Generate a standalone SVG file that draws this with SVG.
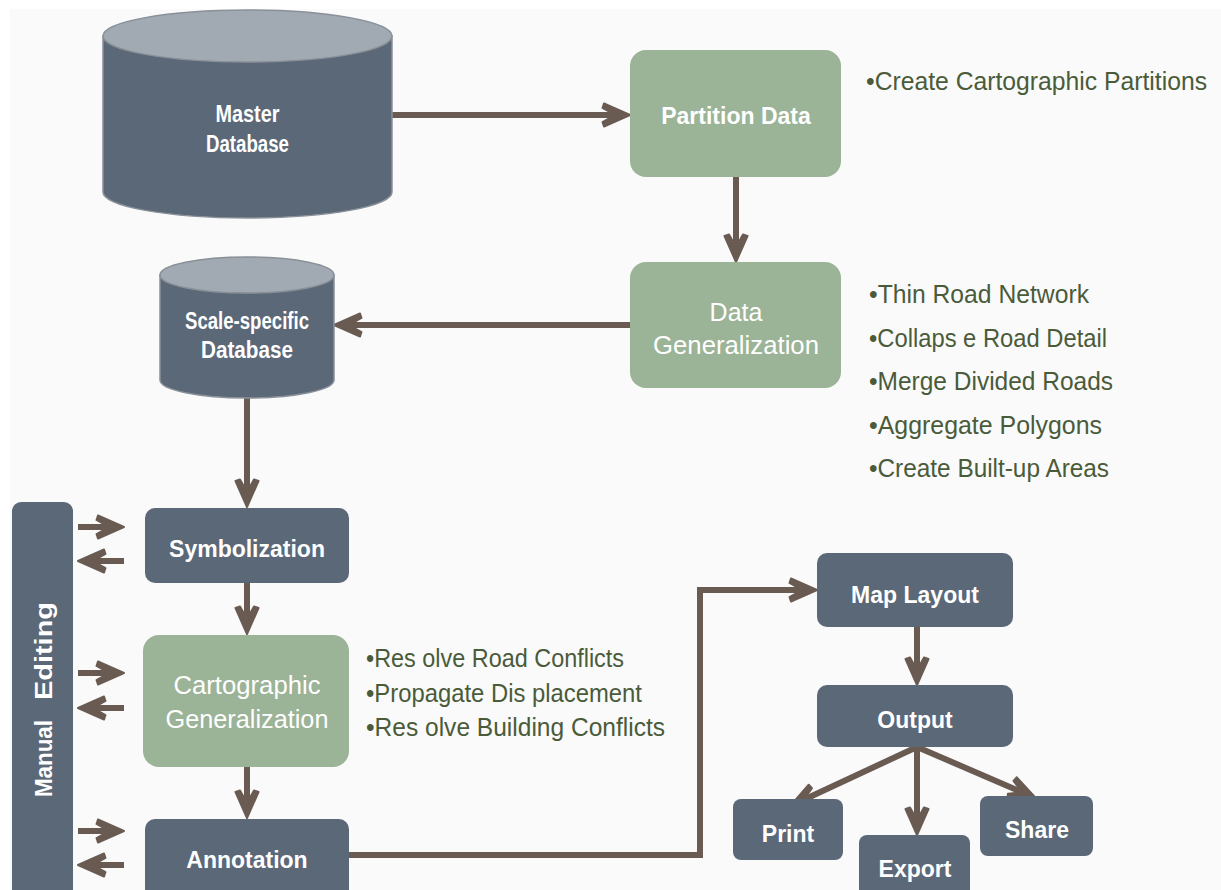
<svg xmlns="http://www.w3.org/2000/svg" width="1221" height="890" viewBox="0 0 1221 890">
<style>
.dk{fill:#5b6878}
.gr{fill:#9bb396}
.lbl{font-family:"Liberation Sans",Arial,sans-serif;font-weight:bold;font-size:23px;fill:#ffffff;text-anchor:middle}
.lblr{font-family:"Liberation Sans",Arial,sans-serif;font-size:25px;fill:#ffffff;text-anchor:middle}
.cyl{font-family:"Liberation Sans",Arial,sans-serif;font-weight:bold;font-size:23px;fill:#ffffff;text-anchor:middle}
.bul{font-family:"Liberation Sans",Arial,sans-serif;font-size:25px;fill:#4a5b3a}
.con{fill:none;stroke:#6a5b52;stroke-width:6}
</style>
<defs>
<marker id="ah" markerUnits="userSpaceOnUse" markerWidth="48" markerHeight="32" viewBox="-32 -16 48 32" refX="-14" refY="0" orient="auto" overflow="visible">
<path d="M0,0 L-26,-11.5 L-27.5,-7 L-15,0 L-27.5,7 L-26,11.5 Z" fill="#6a5b52" stroke="#6a5b52" stroke-width="2" stroke-linejoin="round"/>
</marker>
</defs>
<rect x="0" y="0" width="1221" height="890" fill="#ffffff"/>
<rect x="10" y="9" width="1211" height="881" fill="#fafafa"/>

<g id="connectors">
<path class="con" marker-end="url(#ah)" d="M392,115 H616"/>
<path class="con" marker-end="url(#ah)" d="M736,177 V248"/>
<path class="con" marker-end="url(#ah)" d="M630,325 H348"/>
<path class="con" marker-end="url(#ah)" d="M247,398 V493"/>
<path class="con" marker-end="url(#ah)" d="M247,583 V620"/>
<path class="con" marker-end="url(#ah)" d="M247,767 V804"/>
<path class="con" marker-end="url(#ah)" d="M349,855 H700 V590 H803"/>
<path class="con" marker-end="url(#ah)" d="M917,627 V671"/>
<path class="con" marker-end="url(#ah)" d="M917,747 L802.7,800.2"/>
<path class="con" marker-end="url(#ah)" d="M917,747 V821"/>
<path class="con" marker-end="url(#ah)" d="M917,747 L1023.1,792.6"/>
<path class="con" marker-end="url(#ah)" d="M78,527 H110"/>
<path class="con" marker-end="url(#ah)" d="M124,561 H92"/>
<path class="con" marker-end="url(#ah)" d="M78,673 H110"/>
<path class="con" marker-end="url(#ah)" d="M124,708 H92"/>
<path class="con" marker-end="url(#ah)" d="M78,831 H110"/>
<path class="con" marker-end="url(#ah)" d="M124,865 H92"/>
</g>

<g id="master-db">
<path class="dk" d="M103,36 V192 A144.5,26 0 0 0 392,192 V36 Z" stroke="#8a9098" stroke-width="1.5"/>
<ellipse cx="247.5" cy="36" rx="144.5" ry="26" fill="#a1a9b3" stroke="#8a9098" stroke-width="1.5"/>
<text class="cyl" x="247.5" y="122" textLength="64" lengthAdjust="spacingAndGlyphs">Master</text>
<text class="cyl" x="247.5" y="152" textLength="83" lengthAdjust="spacingAndGlyphs">Database</text>
</g>

<g id="partition-data">
<rect class="gr" x="630" y="50" width="211" height="127" rx="16"/>
<text class="lbl" x="736" y="124">Partition Data</text>
</g>
<g id="partition-notes">
<text class="bul" x="866" y="90" textLength="341" lengthAdjust="spacingAndGlyphs">•Create Cartographic Partitions</text>
</g>

<g id="data-generalization">
<rect class="gr" x="630" y="262" width="211" height="126" rx="16"/>
<text class="lblr" x="736" y="321">Data</text>
<text class="lblr" x="736" y="354" textLength="166" lengthAdjust="spacingAndGlyphs">Generalization</text>
</g>
<g id="data-generalization-notes">
<text class="bul" x="869" y="303" textLength="220" lengthAdjust="spacingAndGlyphs">•Thin Road Network</text>
<text class="bul" x="869" y="347" textLength="238" lengthAdjust="spacingAndGlyphs">•Collaps e Road Detail</text>
<text class="bul" x="869" y="390" textLength="244" lengthAdjust="spacingAndGlyphs">•Merge Divided Roads</text>
<text class="bul" x="869" y="434" textLength="233" lengthAdjust="spacingAndGlyphs">•Aggregate Polygons</text>
<text class="bul" x="869" y="477" textLength="240" lengthAdjust="spacingAndGlyphs">•Create Built-up Areas</text>
</g>

<g id="scale-db">
<path class="dk" d="M160,275 V380 A87,18 0 0 0 334,380 V275 Z" stroke="#8a9098" stroke-width="1.5"/>
<ellipse cx="247" cy="275" rx="87" ry="18" fill="#a1a9b3" stroke="#8a9098" stroke-width="1.5"/>
<text class="cyl" x="247" y="329" font-size="24" textLength="124" lengthAdjust="spacingAndGlyphs">Scale-specific</text>
<text class="cyl" x="247" y="358" font-size="24" textLength="92" lengthAdjust="spacingAndGlyphs">Database</text>
</g>

<g id="manual-editing">
<rect class="dk" x="12" y="502" width="61" height="400" rx="9"/>
<g transform="translate(52,797) rotate(-90)">
<text x="0" y="0" font-family="Liberation Sans, Arial, sans-serif" font-weight="bold" font-size="24" fill="#ffffff" textLength="77" lengthAdjust="spacingAndGlyphs">Manual</text>
<text x="97" y="0" font-family="Liberation Sans, Arial, sans-serif" font-weight="bold" font-size="24" fill="#ffffff" textLength="98" lengthAdjust="spacingAndGlyphs">Editing</text>
</g>
</g>

<g id="symbolization">
<rect class="dk" x="145" y="508" width="204" height="75" rx="10"/>
<text class="lbl" x="247" y="557">Symbolization</text>
</g>

<g id="cartographic-generalization">
<rect class="gr" x="143" y="635" width="206" height="132" rx="16"/>
<text class="lblr" x="247" y="694" textLength="147" lengthAdjust="spacingAndGlyphs">Cartographic</text>
<text class="lblr" x="247" y="728" textLength="163" lengthAdjust="spacingAndGlyphs">Generalization</text>
</g>
<g id="cartographic-notes">
<text class="bul" x="366" y="667" textLength="258" lengthAdjust="spacingAndGlyphs">•Res olve Road Conflicts</text>
<text class="bul" x="366" y="702" textLength="276" lengthAdjust="spacingAndGlyphs">•Propagate Dis placement</text>
<text class="bul" x="366" y="736" textLength="299" lengthAdjust="spacingAndGlyphs">•Res olve Building Conflicts</text>
</g>

<g id="annotation">
<rect class="dk" x="145" y="819" width="204" height="90" rx="10"/>
<text class="lbl" x="247" y="868">Annotation</text>
</g>

<g id="map-layout">
<rect class="dk" x="817" y="553" width="196" height="74" rx="10"/>
<text class="lbl" x="915" y="603">Map Layout</text>
</g>

<g id="output">
<rect class="dk" x="817" y="685" width="196" height="62" rx="10"/>
<text class="lbl" x="915" y="728">Output</text>
</g>

<g id="print">
<rect class="dk" x="733" y="799" width="110" height="61" rx="8"/>
<text class="lbl" x="788" y="842">Print</text>
</g>

<g id="export">
<rect class="dk" x="859" y="835" width="111" height="70" rx="8"/>
<text class="lbl" x="915" y="877">Export</text>
</g>

<g id="share">
<rect class="dk" x="980" y="796" width="113" height="60" rx="8"/>
<text class="lbl" x="1037" y="838">Share</text>
</g>
</svg>
